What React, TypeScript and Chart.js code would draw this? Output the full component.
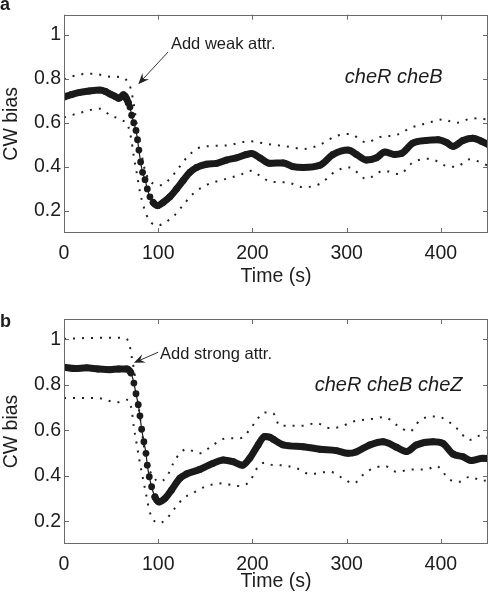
import React, { useEffect, useRef } from "react";
import { Chart, registerables } from "chart.js";

Chart.register(...registerables);

// ---------- shared axis data ----------
const xTicks = [0, 100, 200, 300, 400];
const yTicks = [0.2, 0.4, 0.6, 0.8, 1];
const xLabel = "Time (s)";
const yLabel = "CW bias";

// ---------- panel a (cheR cheB, weak attractant) ----------
const timeA_mean = [0, 8, 17, 27, 38, 44, 49, 54, 58, 61, 63, 65, 66.5, 68.3, 70, 71.8, 74, 76.4, 78, 79.5, 81.3, 83.4, 86, 88.4, 91.2, 94.7, 99.4, 105, 112.4, 119.5, 126.5, 133.6, 140.7, 151.3, 162, 172.5, 183, 193.7, 199, 207.8, 218.5, 232.6, 243, 253.8, 271.5, 285.6, 301.5, 310.4, 321, 331.6, 340.4, 351, 358, 370.4, 384.5, 397, 405.8, 412.8, 423.4, 434, 443, 451];
const biasA_mean = [0.717, 0.728, 0.738, 0.744, 0.748, 0.742, 0.73, 0.72, 0.711, 0.718, 0.727, 0.72, 0.708, 0.69, 0.671, 0.634, 0.6, 0.565, 0.523, 0.476, 0.422, 0.375, 0.342, 0.3, 0.264, 0.238, 0.224, 0.238, 0.264, 0.3, 0.338, 0.375, 0.397, 0.412, 0.416, 0.431, 0.441, 0.456, 0.46, 0.441, 0.416, 0.418, 0.401, 0.397, 0.407, 0.456, 0.476, 0.456, 0.431, 0.441, 0.467, 0.456, 0.46, 0.508, 0.52, 0.523, 0.511, 0.493, 0.52, 0.53, 0.516, 0.5];
const timeA_upper = [0, 17, 31, 49, 63, 68, 71, 74, 77, 80.6, 84, 88, 94.7, 101.8, 110.6, 119.5, 130, 140.7, 151.3, 172.5, 197, 214, 240, 253.8, 271.5, 289, 303, 321, 335, 353, 367, 384.5, 402, 416, 434, 451];
const biasA_upper = [0.797, 0.819, 0.822, 0.809, 0.805, 0.782, 0.752, 0.686, 0.597, 0.508, 0.419, 0.36, 0.323, 0.316, 0.338, 0.382, 0.441, 0.481, 0.493, 0.497, 0.516, 0.505, 0.49, 0.481, 0.5, 0.54, 0.549, 0.511, 0.535, 0.545, 0.575, 0.597, 0.615, 0.6, 0.62, 0.615];
const timeA_lower = [0, 17, 38, 49, 61, 68, 71.5, 74, 77.7, 80.6, 84, 87.6, 93, 100, 109, 117.7, 126.5, 137, 151.3, 169, 186.6, 199, 207.8, 220, 236, 253.8, 271.5, 289, 303, 321, 339, 356, 370.4, 388, 405.8, 416, 430.5, 451];
const biasA_lower = [0.624, 0.645, 0.664, 0.634, 0.612, 0.585, 0.523, 0.449, 0.36, 0.286, 0.227, 0.182, 0.145, 0.135, 0.152, 0.182, 0.227, 0.278, 0.318, 0.342, 0.363, 0.382, 0.36, 0.332, 0.33, 0.308, 0.323, 0.382, 0.397, 0.345, 0.382, 0.367, 0.42, 0.437, 0.404, 0.4, 0.434, 0.404];

// ---------- panel b (cheR cheB cheZ, strong attractant) ----------
const timeB_mean = [0, 12, 24, 36, 49, 58, 66.5, 71, 74.2, 76.4, 78.8, 80.6, 82.4, 84.8, 87, 88.4, 90.5, 93, 96.5, 101, 107, 114, 123, 130, 144, 158.3, 169, 179.5, 189.5, 197, 206, 213, 218.5, 222, 232.6, 253.8, 271.5, 289, 301.5, 310, 324.5, 338.6, 352.8, 363.4, 374, 391.6, 402, 412.8, 423.4, 432.3, 444.6, 451];
const biasB_mean = [0.878, 0.872, 0.875, 0.87, 0.867, 0.87, 0.87, 0.853, 0.808, 0.761, 0.713, 0.664, 0.605, 0.55, 0.499, 0.447, 0.396, 0.352, 0.307, 0.285, 0.3, 0.337, 0.389, 0.408, 0.428, 0.455, 0.47, 0.462, 0.447, 0.477, 0.536, 0.573, 0.57, 0.561, 0.536, 0.528, 0.517, 0.511, 0.499, 0.505, 0.536, 0.55, 0.526, 0.507, 0.536, 0.55, 0.543, 0.496, 0.484, 0.467, 0.477, 0.475];
const timeB_upper = [0, 36, 63, 69, 71.8, 75.3, 77.7, 80.6, 83.4, 86, 89.4, 94.7, 101, 109, 116, 123, 130, 144, 158.3, 172.5, 186.6, 197, 206, 213, 222, 229, 253.8, 267.6, 282, 292.8, 306.8, 324.5, 340.4, 352.8, 367, 377.5, 391.6, 402, 416.4, 430.5, 441, 451];
const biasB_upper = [1.003, 1.007, 1.007, 0.985, 0.926, 0.838, 0.75, 0.661, 0.573, 0.499, 0.44, 0.396, 0.374, 0.396, 0.455, 0.499, 0.517, 0.499, 0.536, 0.565, 0.565, 0.602, 0.654, 0.679, 0.675, 0.62, 0.62, 0.632, 0.61, 0.615, 0.639, 0.649, 0.658, 0.624, 0.595, 0.643, 0.661, 0.654, 0.61, 0.558, 0.576, 0.566];
const timeB_lower = [0, 36, 55.8, 68, 71.8, 74, 77, 80, 83.4, 87, 90.5, 94.7, 101, 108, 116, 126.5, 137, 151.3, 169, 183, 197, 204, 213, 222, 229, 246.8, 261, 282, 296, 307, 321, 340.4, 352.8, 370.4, 384.5, 395, 409.3, 419.9, 430.5, 444.6, 451];
const biasB_lower = [0.742, 0.742, 0.723, 0.735, 0.69, 0.617, 0.543, 0.47, 0.396, 0.322, 0.249, 0.207, 0.192, 0.207, 0.249, 0.3, 0.325, 0.355, 0.367, 0.355, 0.374, 0.428, 0.458, 0.447, 0.447, 0.433, 0.408, 0.418, 0.389, 0.367, 0.418, 0.443, 0.418, 0.428, 0.428, 0.443, 0.384, 0.374, 0.396, 0.378, 0.384];

const FONT = "'Liberation Sans', Arial, Helvetica, sans-serif";
const INK = "#1c1c1c";
const FRAME = "#6a6a6a";

type PanelSpec = {
  letter: string;
  meanT: number[]; mean: number[];
  upT: number[]; up: number[];
  loT: number[]; lo: number[];
  dropFrom: number; dropTo: number;
  note: string; noteAt: [number, number];
  arrowFrom: [number, number]; arrowTo: [number, number];
  strain: string; strainAt: [number, number];
  padTop: number; xAxisH: number; titlePad: number; letterY: number;
};

const panels: PanelSpec[] = [
  {
    letter: "a",
    meanT: timeA_mean, mean: biasA_mean,
    upT: timeA_upper, up: biasA_upper,
    loT: timeA_lower, lo: biasA_lower,
    dropFrom: 67, dropTo: 96,
    note: "Add weak attr.", noteAt: [113.5, 0.957],
    arrowFrom: [110.5, 0.921], arrowTo: [78.8, 0.775],
    strain: "cheR cheB", strainAt: [298, 0.806],
    padTop: 9, xAxisH: 67, titlePad: 11.3, letterY: 10,
  },
  {
    letter: "b",
    meanT: timeB_mean, mean: biasB_mean,
    upT: timeB_upper, up: biasB_upper,
    loT: timeB_lower, lo: biasB_lower,
    dropFrom: 70, dropTo: 100,
    note: "Add strong attr.", noteAt: [102, 0.934],
    arrowFrom: [100, 0.944], arrowTo: [74.2, 0.897],
    strain: "cheR cheB cheZ", strainAt: [266, 0.797],
    padTop: 19, xAxisH: 56, titlePad: 6.5, letterY: 26.7,
  },
];

const zip = (t: number[], v: number[]) => t.map((x, i) => ({ x, y: v[i] }));

function framePlugin(p: PanelSpec) {
  return {
    id: "frame" + p.letter,
    afterDatasetsDraw(chart: any) {
      const { ctx, chartArea, scales } = chart;
      const { left, right, top, bottom } = chartArea;
      const xs = scales.x, ys = scales.y;
      ctx.save();
      // box
      ctx.strokeStyle = FRAME;
      ctx.lineWidth = 1;
      ctx.strokeRect(Math.round(left) + 0.5, Math.round(top) + 0.5, Math.round(right - left) - 1, Math.round(bottom - top) - 1);
      // inward ticks on all sides
      const tl = 5;
      ctx.beginPath();
      xTicks.forEach((v) => {
        const px = Math.round(xs.getPixelForValue(v)) + 0.5;
        ctx.moveTo(px, bottom); ctx.lineTo(px, bottom - tl);
        ctx.moveTo(px, top); ctx.lineTo(px, top + tl);
      });
      yTicks.forEach((v) => {
        const py = Math.round(ys.getPixelForValue(v)) + 0.5;
        ctx.moveTo(left, py); ctx.lineTo(left + tl, py);
        ctx.moveTo(right, py); ctx.lineTo(right - tl, py);
      });
      ctx.stroke();

      // annotation arrow
      const ax0 = xs.getPixelForValue(p.arrowFrom[0]);
      const ay0 = ys.getPixelForValue(p.arrowFrom[1]);
      const ax1 = xs.getPixelForValue(p.arrowTo[0]);
      const ay1 = ys.getPixelForValue(p.arrowTo[1]);
      const ang = Math.atan2(ay1 - ay0, ax1 - ax0);
      const L = 11, W = 4.5, back = 7;
      const bx = ax1 - Math.cos(ang) * back, by = ay1 - Math.sin(ang) * back;
      ctx.strokeStyle = "#333";
      ctx.lineWidth = 1;
      ctx.beginPath();
      ctx.moveTo(ax0, ay0);
      ctx.lineTo(bx, by);
      ctx.stroke();
      ctx.fillStyle = "#222";
      ctx.beginPath();
      ctx.moveTo(ax1, ay1);
      ctx.lineTo(ax1 - Math.cos(ang) * L - Math.sin(ang) * W, ay1 - Math.sin(ang) * L + Math.cos(ang) * W);
      ctx.lineTo(bx, by);
      ctx.lineTo(ax1 - Math.cos(ang) * L + Math.sin(ang) * W, ay1 - Math.sin(ang) * L - Math.cos(ang) * W);
      ctx.closePath();
      ctx.fill();

      // texts
      ctx.fillStyle = INK;
      ctx.textBaseline = "middle";
      ctx.textAlign = "left";
      ctx.font = `16.5px ${FONT}`;
      ctx.fillText(p.note, xs.getPixelForValue(p.noteAt[0]), ys.getPixelForValue(p.noteAt[1]));
      ctx.font = `italic 20px ${FONT}`;
      ctx.fillText(p.strain, xs.getPixelForValue(p.strainAt[0]), ys.getPixelForValue(p.strainAt[1]));

      // panel letter
      ctx.textBaseline = "alphabetic";
      ctx.font = `bold 18px ${FONT}`;
      ctx.fillText(p.letter, 0, p.letterY);
      ctx.restore();
    },
  };
}

function makeChart(canvas: HTMLCanvasElement, p: PanelSpec) {
  const axisFont = { family: FONT, size: 19.5 };
  const dotted = {
    borderColor: "#222",
    borderWidth: 2,
    borderDash: [2, 7],
    borderCapStyle: "butt" as const,
    pointRadius: 0,
    cubicInterpolationMode: "monotone" as const,
    fill: false,
  };
  const inDrop = (ctx: any) =>
    ctx.p0.parsed.x >= p.dropFrom && ctx.p1.parsed.x <= p.dropTo;
  return new Chart(canvas, {
    type: "line",
    data: {
      datasets: [
        { data: zip(p.upT, p.up), ...dotted },
        { data: zip(p.loT, p.lo), ...dotted },
        {
          data: zip(p.meanT, p.mean),
          borderColor: "#1a1a1a",
          borderWidth: 7,
          borderCapStyle: "round",
          borderJoinStyle: "round",
          pointRadius: 3.4,
          pointBackgroundColor: "#1a1a1a",
          pointBorderWidth: 0,
          cubicInterpolationMode: "monotone",
          segment: {
            borderWidth: (ctx: any) => (inDrop(ctx) ? 1.2 : 7),
          },
        } as any,
      ],
    },
    options: {
      animation: false,
      responsive: false,
      maintainAspectRatio: false,
      events: [],
      layout: { padding: { left: 0, right: 3, top: p.padTop, bottom: 0 } },
      plugins: { legend: { display: false }, tooltip: { enabled: false } },
      scales: {
        x: {
          type: "linear",
          min: 0,
          max: 450,
          grid: { display: false, drawTicks: false },
          border: { display: false },
          ticks: { font: axisFont, color: INK, padding: 9, maxRotation: 0 },
          afterBuildTicks: (s: any) => { s.ticks = xTicks.map((v) => ({ value: v })); },
          afterFit: (s: any) => { s.height = p.xAxisH; },
          title: { display: true, text: xLabel, font: axisFont, color: INK, padding: { top: 0, bottom: p.titlePad } },
        },
        y: {
          type: "linear",
          min: 0.1,
          max: 1.09,
          grid: { display: false, drawTicks: false },
          border: { display: false },
          ticks: {
            font: axisFont,
            color: INK,
            padding: 3,
            callback: (v: any) => String(Math.round(Number(v) * 10) / 10),
          },
          afterBuildTicks: (s: any) => { s.ticks = yTicks.map((v) => ({ value: v })); },
          afterFit: (s: any) => { s.width = 64; },
          title: { display: true, text: yLabel, font: axisFont, color: INK, padding: { top: 0, bottom: 0 } },
        },
      },
    } as any,
    plugins: [framePlugin(p)],
  });
}

function Panel({ spec, top }: { spec: PanelSpec; top: number }) {
  const ref = useRef<HTMLCanvasElement | null>(null);
  useEffect(() => {
    if (!ref.current) return;
    const chart = makeChart(ref.current, spec);
    return () => chart.destroy();
  }, [spec]);
  return (
    <canvas
      ref={ref}
      width={492}
      height={300}
      style={{ position: "absolute", left: 0, top, width: 492, height: 300, display: "block" }}
    />
  );
}

export default function App() {
  return (
    <div style={{ position: "absolute", left: 0, top: 0, width: 492, height: 600, background: "#fff" }}>
      <Panel spec={panels[0]} top={0} />
      <Panel spec={panels[1]} top={300} />
    </div>
  );
}
